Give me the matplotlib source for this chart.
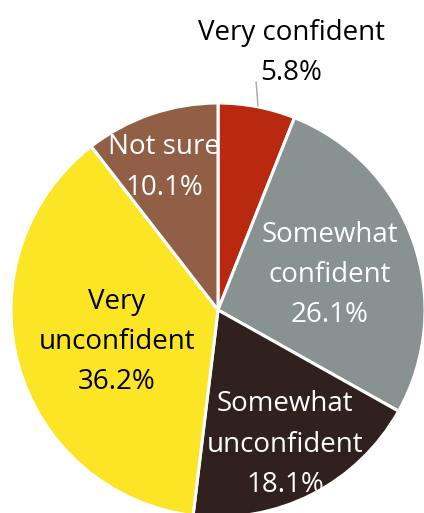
import matplotlib
matplotlib.use("Agg")
import matplotlib.pyplot as plt

# ----------------------------
# Data
# ----------------------------
categories = ["Very confident", "Somewhat confident", "Somewhat unconfident",
              "Very unconfident", "Not sure"]
label_text = ["Very confident", "Somewhat\nconfident", "Somewhat\nunconfident",
              "Very\nunconfident", "Not sure"]
shares = [5.8, 26.1, 18.1, 36.2, 10.1]
colors = ["#B8290F", "#889290", "#31211E", "#FCE524", "#915F45"]
text_colors = ["black", "white", "white", "black", "white"]

# label centres, in units of pie radius (Excel puts them by hand)
label_pos = [(0.353, 1.240), (0.541, 0.170), (0.324, -0.650),
             (-0.488, -0.155), (-0.261, 0.688)]

plt.rcParams['font.family'] = ['Open Sans', 'DejaVu Sans']

fig = plt.figure(figsize=(4.24, 5.13), dpi=100)
ax = fig.add_axes([0, 0, 1, 1])

wedges, _ = ax.pie(
    shares,
    colors=colors,
    startangle=90,
    counterclock=False,
    radius=1.0,
    wedgeprops=dict(edgecolor="white", linewidth=2.2),
)

for txt, val, pos, tc in zip(label_text, shares, label_pos, text_colors):
    ax.text(pos[0], pos[1], f"{txt}\n{val:.1f}%", ha="center", va="center",
            fontsize=20, color=tc, linespacing=1.58)

# leader line for the small slice
ax.plot([0.184, 0.193], [1.101, 0.986], color="#A6A6A6", linewidth=1.0)

ax.set_xlim(-218 / 207, (424 - 218) / 207)
ax.set_ylim(-(513 - 310) / 207, 310 / 207)
ax.set_aspect("auto")
ax.axis("off")

fig.savefig("out.png", dpi=100)
